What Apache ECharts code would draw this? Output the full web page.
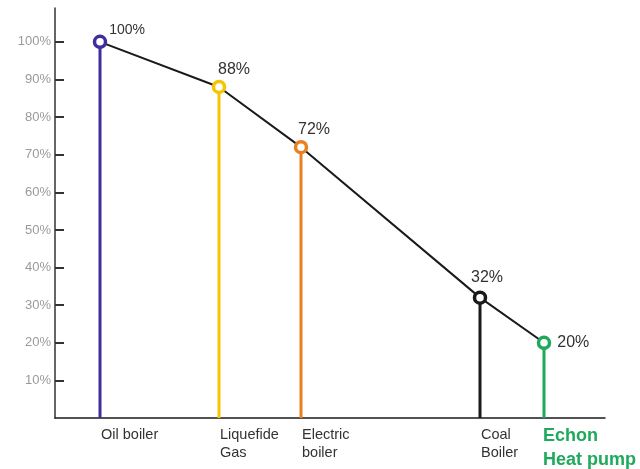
<!DOCTYPE html>
<html>
<head>
<meta charset="utf-8">
<style>
  html, body { margin: 0; padding: 0; background: #fff; }
  #chart { width: 640px; height: 469px; }
</style>
<script src="https://cdn.jsdelivr.net/npm/echarts@6/dist/echarts.min.js"></script>
</head>
<body>
<div id="chart"></div>
<script>
// Heating systems and their relative running cost
const systems = ['Oil boiler', 'Liquefide\nGas', 'Electric\nboiler', 'Coal\nBoiler', 'Echon\nHeat pump'];
const costShare = [100, 88, 72, 32, 20];
// horizontal slot of each system along the baseline
const slots = [45, 164, 246, 425, 489];
const yTicks = [10, 20, 30, 40, 50, 60, 70, 80, 90, 100];

// styling per system
const colors = ['#3f2f9e', '#f6c500', '#e8801f', '#1a1a1a', '#1daa5a'];
const valueLabelPos = ['right', 'top', 'top', 'top', 'right'];
const valueLabelDist = [2, 2, 2, 5, 6];
const valueLabelShift = [[0, -12], [15, 0], [13, 0], [7, 0], [0, 0]];
const valueLabelSize = [14, 16, 16, 16, 16];

const FONT = "'Liberation Sans', Arial, Helvetica, sans-serif";

const chart = echarts.init(document.getElementById('chart'), null, { renderer: 'canvas' });

const stems = systems.map((name, i) => ({
  type: 'line',
  data: [[slots[i], 0], [slots[i], costShare[i]]],
  showSymbol: false,
  symbol: 'none',
  lineStyle: { color: colors[i], width: 3, opacity: 1 },
  z: 2,
  silent: true
}));

const option = {
  animation: false,
  grid: { left: 55, right: 35, top: 8, bottom: 51 },
  xAxis: {
    type: 'value',
    min: 0,
    max: 550,
    axisLine: { show: true, lineStyle: { color: '#1a1a1a', width: 1.5 } },
    axisTick: { show: false },
    axisLabel: { show: false },
    splitLine: { show: false }
  },
  yAxis: {
    type: 'value',
    min: 0,
    max: 109,
    interval: 10,
    axisLine: { show: true, lineStyle: { color: '#333', width: 1.5 } },
    axisTick: {
      show: true, inside: true, length: 9,
      customValues: yTicks,
      lineStyle: { color: '#333', width: 2 }
    },
    axisLabel: {
      customValues: yTicks,
      formatter: v => v + '%',
      color: '#9a9a9a',
      fontFamily: FONT,
      fontSize: 13,
      margin: 4
    },
    splitLine: { show: false }
  },
  series: [
    ...stems,
    {
      type: 'line',
      data: slots.map((x, i) => [x, costShare[i]]),
      symbol: 'none',
      lineStyle: { color: '#1a1a1a', width: 2 },
      z: 3,
      silent: true
    },
    {
      type: 'scatter',
      data: slots.map((x, i) => ({
        value: [x, costShare[i]],
        itemStyle: { color: '#fff', borderColor: colors[i], borderWidth: 3.5, opacity: 1 },
        label: {
          position: valueLabelPos[i],
          distance: valueLabelDist[i],
          offset: valueLabelShift[i],
          fontSize: valueLabelSize[i]
        }
      })),
      symbol: 'circle',
      symbolSize: 11,
      z: 5,
      label: {
        show: true,
        formatter: p => costShare[p.dataIndex] + '%',
        color: '#333',
        fontFamily: FONT
      }
    },
    {
      type: 'scatter',
      data: slots.map((x, i) => ({
        value: [x, 0],
        label: i === systems.length - 1
          ? { color: '#1daa5a', fontWeight: 'bold', fontSize: 18, lineHeight: 24, position: [-1, 6] }
          : {}
      })),
      symbolSize: 0,
      itemStyle: { opacity: 1 },
      silent: true,
      z: 4,
      label: {
        show: true,
        position: [1, 8],
        align: 'left',
        verticalAlign: 'top',
        formatter: p => systems[p.dataIndex],
        color: '#333',
        fontFamily: FONT,
        fontSize: 14.5,
        lineHeight: 18
      }
    }
  ]
};

chart.setOption(option);
</script>
</body>
</html>
